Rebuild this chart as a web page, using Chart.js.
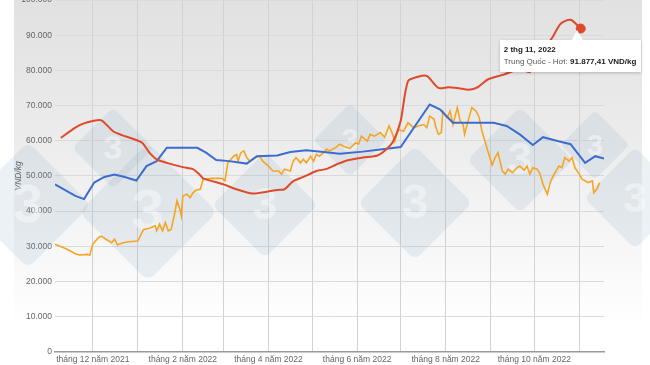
<!DOCTYPE html>
<html lang="vi">
<head>
<meta charset="utf-8">
<script src="https://cdn.jsdelivr.net/npm/chart.js@4/dist/chart.umd.min.js"></script>
<style>
  html, body { margin: 0; padding: 0; width: 650px; height: 365px; overflow: hidden; background: #fff; }
  .panel { position: absolute; left: 14px; top: 0; width: 628px; height: 365px;
    background: linear-gradient(#e1e1e1 0%, #ebebeb 35%, #f6f6f6 65%, #fff 90%); }
  .wrap { position: absolute; left: 0; top: -12px; width: 650px; height: 380px; }
  #tip { position: absolute; background: #fff; color: #555; font: 8px "Liberation Sans", Arial, sans-serif;
    line-height: 12px; padding: 4px 5px 4px 4px; white-space: nowrap; box-shadow: 0 1px 3px rgba(0,0,0,0.22);
    opacity: 0; pointer-events: none; }
  #tip b { color: #222; }
  #tip:before { content: ""; position: absolute; left: 72px; top: -10px; border-left: 5px solid transparent;
    border-right: 6px solid transparent; border-bottom: 10px solid #fff; }
</style>
</head>
<body>
<div class="panel"></div>
<div class="wrap">
  <canvas id="myChart"></canvas>
  <div id="tip"></div>
</div>
<script>
// Trung Quốc - Hơi (weekly)
const redDates = ['2021-11-09','2021-11-19','2021-11-24','2021-12-01','2021-12-07','2021-12-15','2021-12-21','2021-12-29','2022-01-04','2022-01-09',
  '2022-01-14','2022-01-21','2022-02-01','2022-02-08','2022-02-13','2022-02-15','2022-03-01','2022-03-10','2022-03-21','2022-03-31',
  '2022-04-07','2022-04-12','2022-04-18','2022-04-25','2022-05-04','2022-05-11','2022-05-18','2022-05-25','2022-06-05','2022-06-15',
  '2022-06-21','2022-06-26','2022-07-01','2022-07-06','2022-07-13','2022-07-19','2022-07-27','2022-08-03','2022-08-10','2022-08-17',
  '2022-08-23','2022-08-30','2022-09-10','2022-09-21','2022-09-28','2022-09-30','2022-10-07','2022-10-14','2022-10-19','2022-10-26',
  '2022-11-02'];
const redValues = [60800,63700,64800,65600,65800,62700,61600,60500,59400,56600,
  54700,53700,52500,51900,50200,49300,47600,46200,45000,45500,
  46000,46200,48500,49700,51400,52000,53300,54400,55200,55800,
  57500,59900,65600,76900,78200,78400,75000,75200,74900,74500,
  75200,77400,78800,80300,79500,80800,85400,89700,93200,94400,
  91877.41];

// second weekly series
const blueDates = ['2021-11-05','2021-11-19','2021-11-25','2021-12-02','2021-12-09','2021-12-16','2021-12-23','2021-12-31','2022-01-07','2022-01-14',
  '2022-01-21','2022-02-11','2022-02-17','2022-02-24','2022-03-05','2022-03-17','2022-03-24','2022-04-07','2022-04-16','2022-04-27',
  '2022-05-09','2022-05-20','2022-06-05','2022-06-17','2022-07-01','2022-07-21','2022-07-28','2022-08-06','2022-09-03','2022-09-12',
  '2022-09-21','2022-09-30','2022-10-07','2022-10-17','2022-10-26','2022-11-05','2022-11-12','2022-11-18'];
const blueValues = [47600,44300,43400,48100,49700,50400,49700,48700,52800,54200,
  58000,58000,56600,54500,54200,53500,55600,55800,56800,57300,
  56800,56300,56900,57500,58200,70300,68900,65100,65100,64200,
  61800,58800,61000,59900,59000,53700,55600,54900];

// daily series
const orangeDates = ['2021-11-05','2021-11-13','2021-11-19','2021-11-22','2021-11-27','2021-11-29','2021-12-01','2021-12-05','2021-12-07','2021-12-10',
  '2021-12-14','2021-12-16','2021-12-18','2021-12-22','2021-12-26','2022-01-01','2022-01-05','2022-01-09','2022-01-13','2022-01-14',
  '2022-01-16','2022-01-18','2022-01-20','2022-01-22','2022-01-24','2022-01-26','2022-01-28','2022-01-30','2022-01-31','2022-02-01',
  '2022-02-04','2022-02-06','2022-02-08','2022-02-10','2022-02-13','2022-02-15','2022-02-21','2022-02-28','2022-03-02','2022-03-04',
  '2022-03-08','2022-03-10','2022-03-11','2022-03-13','2022-03-15','2022-03-17','2022-03-19','2022-03-23','2022-03-26','2022-03-28',
  '2022-04-01','2022-04-04','2022-04-08','2022-04-10','2022-04-12','2022-04-16','2022-04-18','2022-04-20','2022-04-23','2022-04-25',
  '2022-04-27','2022-04-30','2022-05-02','2022-05-04','2022-05-06','2022-05-09','2022-05-11','2022-05-13','2022-05-17','2022-05-20',
  '2022-05-24','2022-05-27','2022-05-31','2022-06-02','2022-06-04','2022-06-08','2022-06-10','2022-06-13','2022-06-17','2022-06-20',
  '2022-06-23','2022-06-25','2022-06-27','2022-06-29','2022-07-03','2022-07-06','2022-07-10','2022-07-13','2022-07-17','2022-07-19',
  '2022-07-21','2022-07-24','2022-07-25','2022-07-27','2022-07-29','2022-07-30','2022-08-02','2022-08-04','2022-08-06','2022-08-09',
  '2022-08-11','2022-08-13','2022-08-14','2022-08-17','2022-08-19','2022-08-22','2022-08-24','2022-08-26','2022-08-28','2022-08-30',
  '2022-09-02','2022-09-04','2022-09-06','2022-09-09','2022-09-11','2022-09-13','2022-09-16','2022-09-19','2022-09-21','2022-09-24',
  '2022-09-26','2022-09-28','2022-09-30','2022-10-03','2022-10-05','2022-10-07','2022-10-10','2022-10-12','2022-10-14','2022-10-18',
  '2022-10-20','2022-10-22','2022-10-25','2022-10-27','2022-10-29','2022-11-01','2022-11-03','2022-11-05','2022-11-07','2022-11-10',
  '2022-11-11','2022-11-13','2022-11-15'];
const orangeValues = [30600,29200,27900,27500,27700,27500,30600,32500,32900,32000,
  31000,32000,30400,31000,31300,31500,34800,35100,35800,34400,
  36300,34400,36700,34400,34800,38600,42900,40500,38600,44300,
  44800,43800,45200,45900,46200,49000,49300,49300,48600,53700,
  55600,56100,54200,56600,57100,55200,54200,55200,55600,54200,
  52800,51400,51400,50500,51900,51400,54200,55200,53700,54700,
  53700,55600,54200,56100,55600,56600,57600,57100,58000,59000,
  58200,57800,59400,59000,61300,59900,61800,61300,62300,61000,
  64200,62300,59900,63200,62700,65100,63700,64200,64600,63700,
  67000,66100,64200,61800,62300,68400,66500,68400,64600,69400,
  65600,64600,61800,66500,69400,68400,66700,62700,59900,57100,
  53100,55200,56600,51400,50500,51900,50900,52300,52800,51600,
  52800,50500,52300,51900,50500,47600,44800,48100,50000,52800,
  52300,55200,54200,55200,52300,50500,49000,48600,48100,48600,
  45200,46200,48100];

// x axis: a gridline every month, a label every second month
const monthStarts = ['2021-12-01','2022-01-01','2022-02-01','2022-03-01','2022-04-01','2022-05-01',
  '2022-06-01','2022-07-01','2022-08-01','2022-09-01','2022-10-01','2022-11-01'];
const labelledMonths = ['2021-12-01','2022-02-01','2022-04-01','2022-06-01','2022-08-01','2022-10-01'];
const yTicks = [0,10000,20000,30000,40000,50000,60000,70000,80000,90000,100000];

const toMs = s => Date.parse(s + 'T00:00:00Z');
const pts = (dates, vals) => dates.map((d, i) => ({ x: toMs(d), y: vals[i] }));

function fmtNum(v, dec) {
  const parts = v.toFixed(dec || 0).split('.');
  const int = parts[0].replace(/\B(?=(\d{3})+(?!\d))/g, '.');
  return parts[1] ? int + ',' + parts[1] : int;
}
function fmtDate(ms) {
  const d = new Date(ms);
  return d.getUTCDate() + ' thg ' + (d.getUTCMonth() + 1) + ', ' + d.getUTCFullYear();
}

// 3tres3 style watermark logos behind the lines
const logoPlugin = {
  id: 'logos',
  beforeDatasetsDraw(chart) {
    const ctx = chart.ctx;
    const logos = [[28,217,62],[113,160,40],[148,224,68],[265,217,52],[350,152,36],[415,215,56],[520,172,52],[595,157,34],[635,210,50]];
    ctx.save();
    logos.forEach(l => {
      const r = l[2] * 0.72;
      ctx.save();
      ctx.translate(l[0], l[1]);
      ctx.rotate(Math.PI / 4);
      ctx.fillStyle = 'rgba(130,160,190,0.15)';
      ctx.beginPath();
      ctx.roundRect(-r, -r, 2 * r, 2 * r, r * 0.18);
      ctx.fill();
      ctx.restore();
      ctx.fillStyle = 'rgba(255,255,255,0.4)';
      ctx.font = 'bold ' + Math.round(l[2] * 0.85) + 'px "Liberation Sans", Arial, sans-serif';
      ctx.textAlign = 'center';
      ctx.textBaseline = 'middle';
      ctx.fillText('3', l[0], l[1] + 2);
    });
    ctx.restore();
  }
};

function externalTip(context) {
  const tip = document.getElementById('tip');
  const t = context.tooltip;
  if (t.opacity === 0 || !t.dataPoints || !t.dataPoints.length) { tip.style.opacity = 0; return; }
  const dp = t.dataPoints[0];
  tip.innerHTML = '<b>' + fmtDate(dp.parsed.x) + '</b><br>' + dp.dataset.label + ': <b>' + fmtNum(dp.parsed.y, 2) + ' VND/kg</b>';
  tip.style.left = (t.caretX - 81) + 'px';
  tip.style.top = (t.caretY + 11) + 'px';
  tip.style.opacity = 1;
}

const RED = 'rgb(222,74,42)';
const BLUE = 'rgb(60,108,208)';
const ORANGE = 'rgb(245,165,35)';
const FONT = '"Liberation Sans", Arial, sans-serif';

const data = {
  datasets: [
    { label: 'Trung Quốc - Hơi', data: pts(redDates, redValues), borderColor: RED, backgroundColor: RED,
      borderWidth: 2, tension: 0.25, pointHoverRadius: 4.5, pointHoverBackgroundColor: RED, pointHoverBorderColor: RED },
    { label: 'Tây Ban Nha - Hơi', data: pts(blueDates, blueValues), borderColor: BLUE, backgroundColor: BLUE,
      borderWidth: 2, tension: 0 },
    { label: 'Việt Nam - Hơi', data: pts(orangeDates, orangeValues), borderColor: ORANGE, backgroundColor: ORANGE,
      borderWidth: 1.6, tension: 0 }
  ]
};

const config = {
  type: 'line',
  data,
  plugins: [logoPlugin],
  options: {
    responsive: true,
    maintainAspectRatio: false,
    animation: false,
    events: [],
    layout: { padding: { top: 12, right: 46, bottom: 0, left: 0 } },
    elements: { point: { radius: 0 } },
    plugins: {
      legend: { display: false },
      tooltip: { enabled: false, external: externalTip, mode: 'nearest', intersect: false }
    },
    scales: {
      x: {
        type: 'linear',
        min: toMs('2021-11-05'),
        max: toMs('2022-11-18'),
        afterBuildTicks: scale => { scale.ticks = monthStarts.map(m => ({ value: toMs(m) })); },
        ticks: {
          autoSkip: false, maxRotation: 0, padding: 3, color: '#666',
          font: { family: FONT, size: 8.5 },
          callback: v => {
            const d = new Date(v);
            const key = d.toISOString().slice(0, 10);
            return labelledMonths.includes(key) ? 'tháng ' + (d.getUTCMonth() + 1) + ' năm ' + d.getUTCFullYear() : '';
          }
        },
        grid: { color: '#d2d2d2', drawTicks: false },
        border: { color: '#9a9a9a', width: 1.5 }
      },
      y: {
        min: 0,
        max: 100000,
        afterBuildTicks: scale => { scale.ticks = yTicks.map(v => ({ value: v })); },
        afterFit: scale => { scale.width = 55; },
        ticks: {
          padding: 3, color: '#666',
          font: { family: FONT, size: 8.5 },
          callback: v => fmtNum(v)
        },
        grid: { color: '#dadada', drawTicks: false },
        border: { display: false },
        title: {
          display: true, text: 'VND/kg', color: '#555', padding: { top: 14, bottom: 0 },
          font: { family: FONT, size: 8.5, style: 'italic' }
        }
      }
    }
  }
};

const myChart = new Chart(document.getElementById('myChart'), config);

// hover state on the last Trung Quốc point, as in the screenshot
const lastIdx = redValues.length - 1;
myChart.setActiveElements([{ datasetIndex: 0, index: lastIdx }]);
myChart.tooltip.setActiveElements([{ datasetIndex: 0, index: lastIdx }], { x: 0, y: 0 });
myChart.update('none');
</script>
</body>
</html>
